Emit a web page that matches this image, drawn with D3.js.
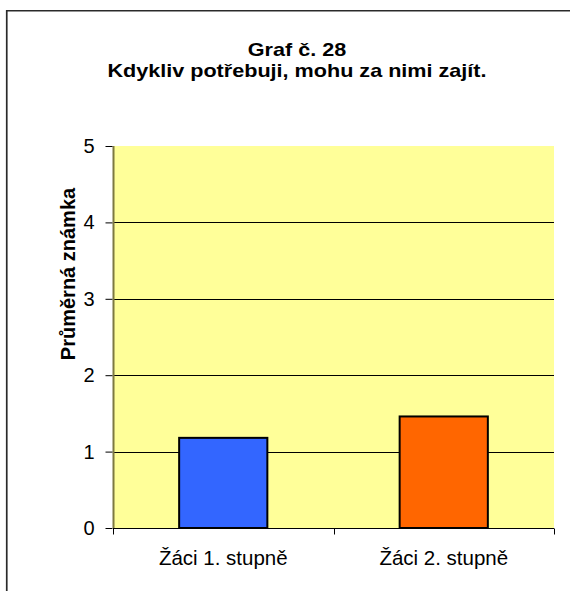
<!DOCTYPE html>
<html>
<head>
<meta charset="utf-8">
<script src="https://cdn.jsdelivr.net/npm/d3@7"></script>
<style>
  body { margin: 0; background: #fff; }
  text { font-family: "Liberation Sans", Arial, sans-serif; }
</style>
</head>
<body>
<script>
// data
var categories = ["Žáci 1. stupně", "Žáci 2. stupně"];
var values = [1.18, 1.46];
var barColors = ["#3366FF", "#FF6600"];
var yTicks = [0, 1, 2, 3, 4, 5];
var titleLines = ["Graf č. 28", "Kdykliv potřebuji, mohu za nimi zajít."];
var yLabel = "Průměrná známka";

var W = 570, H = 591;
var m = {left: 113, right: 554, top: 146, bottom: 528};

var svg = d3.select("body").append("svg")
    .attr("width", W)
    .attr("height", H);

// outer frame (only left and top edges visible)
svg.append("path")
    .attr("d", "M6.75," + H + "V10.75H" + W)
    .attr("fill", "none")
    .attr("stroke", "#2a2a2a")
    .attr("stroke-width", 1.7);

var x = d3.scaleBand()
    .domain(categories)
    .range([m.left, m.right])
    .paddingInner(0.6)
    .paddingOuter(0.3);

var xOuter = d3.scaleBand()
    .domain(categories)
    .range([m.left, m.right]);

var y = d3.scaleLinear()
    .domain([0, 5])
    .range([m.bottom, m.top]);

// plot background
svg.append("rect")
    .attr("x", m.left)
    .attr("y", m.top)
    .attr("width", m.right - m.left)
    .attr("height", m.bottom - m.top)
    .attr("fill", "#FFFF99");

// gridlines
svg.selectAll("line.grid")
    .data(yTicks.filter(function(d) { return d > 0 && d < 5; }))
    .enter()
    .append("line")
    .attr("class", "grid")
    .attr("x1", m.left)
    .attr("x2", m.right)
    .attr("y1", function(d) { return Math.round(y(d)) + 0.5; })
    .attr("y2", function(d) { return Math.round(y(d)) + 0.5; })
    .attr("stroke", "#000")
    .attr("stroke-width", 1);

// plot left edge
svg.append("line")
    .attr("x1", m.left + 0.5).attr("x2", m.left + 0.5)
    .attr("y1", m.top).attr("y2", m.bottom)
    .attr("stroke", "#7d7940")
    .attr("stroke-width", 2);

// bars
svg.selectAll("rect.bar")
    .data(values)
    .enter()
    .append("rect")
    .attr("class", "bar")
    .attr("x", function(d, i) { return x(categories[i]); })
    .attr("width", x.bandwidth())
    .attr("y", function(d) { return y(d); })
    .attr("height", function(d) { return y(0) - y(d); })
    .attr("fill", function(d, i) { return barColors[i]; })
    .attr("stroke", "#000")
    .attr("stroke-width", 2);

// y axis
var yAxis = svg.append("g")
    .attr("transform", "translate(" + (m.left - 0.5) + ",0)")
    .call(d3.axisLeft(y).tickValues(yTicks).tickFormat(d3.format("d")).tickSize(7).tickPadding(11));
yAxis.select(".domain").remove();
yAxis.selectAll("line").attr("stroke", "#000");
yAxis.selectAll("text")
    .attr("font-size", 20)
    .attr("fill", "#000")
    .style("font-family", "'Liberation Sans', Arial, sans-serif");

// x axis
var xAxis = svg.append("g")
    .attr("transform", "translate(0," + (m.bottom + 0.5) + ")")
    .call(d3.axisBottom(xOuter).tickSize(0).tickPadding(0).tickSizeOuter(0));
xAxis.select(".domain")
    .attr("d", "M" + m.left + ",0H" + m.right)
    .attr("stroke", "#000")
    .attr("stroke-width", 1.2);
xAxis.selectAll("text")
    .attr("y", 36.5)
    .attr("dy", null)
    .attr("font-size", 20.5)
    .attr("fill", "#000")
    .style("font-family", "'Liberation Sans', Arial, sans-serif");
// category separator ticks
xAxis.selectAll("line.sep")
    .data([m.left, (m.left + m.right) / 2, m.right])
    .enter()
    .append("line")
    .attr("class", "sep")
    .attr("x1", function(d) { return Math.round(d) + 0.5; })
    .attr("x2", function(d) { return Math.round(d) + 0.5; })
    .attr("y1", 0)
    .attr("y2", 6)
    .attr("stroke", "#000");

// title (reference glyphs are wide, so stretch horizontally)
svg.selectAll("text.title")
    .data(titleLines)
    .enter()
    .append("text")
    .attr("class", "title")
    .attr("transform", function(d, i) {
        return "translate(297," + (56 + i * 21) + ") scale(1.2,1)";
    })
    .attr("text-anchor", "middle")
    .attr("font-size", 18)
    .attr("font-weight", "bold")
    .text(function(d) { return d; });

// y label
svg.append("text")
    .attr("transform", "translate(75,274) rotate(-90)")
    .attr("text-anchor", "middle")
    .attr("font-size", 20)
    .attr("font-weight", "bold")
    .text(yLabel);
</script>
</body>
</html>
